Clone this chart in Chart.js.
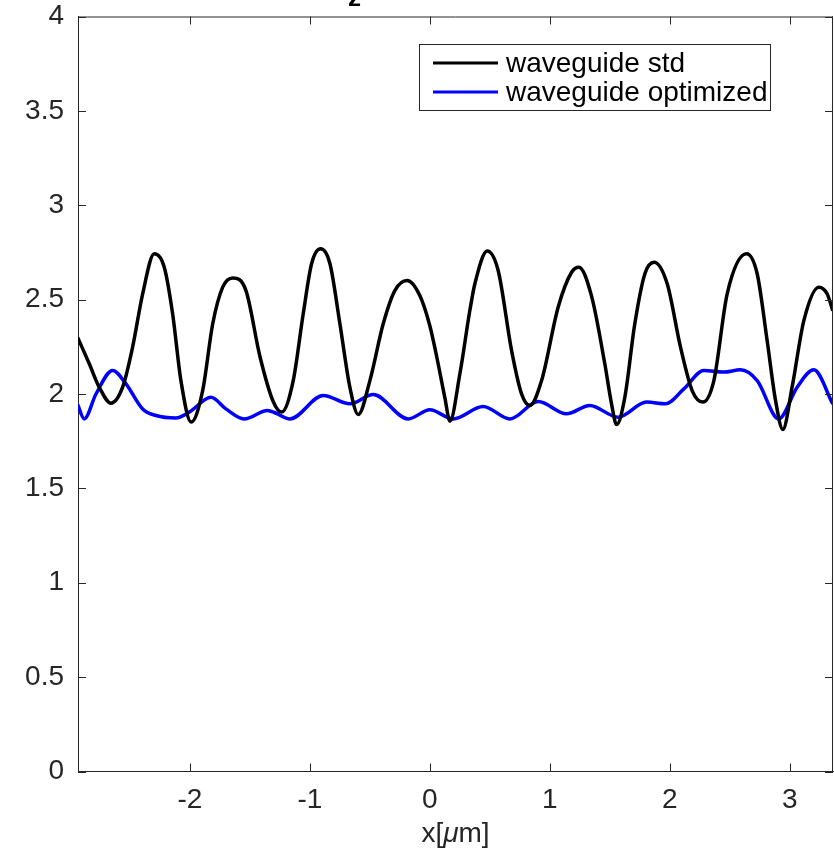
<!DOCTYPE html>
<html>
<head>
<meta charset="utf-8">
<script src="https://cdn.jsdelivr.net/npm/chart.js@4.4.1/dist/chart.umd.min.js"></script>
<style>
    html, body { margin: 0; padding: 0; background: #fff; }
</style>
</head>
<body>
<canvas id="chart" width="834" height="850"></canvas>
<script>
// values
const stdX = [-2.936, -2.839, -2.756, -2.658, -2.561, -2.478, -2.394, -2.297, -2.214, -2.144, -2.075, -1.99,
    -1.894, -1.81, -1.727, -1.644, -1.533, -1.417, -1.306, -1.236, -1.139, -1.056, -0.986, -0.911,
    -0.833, -0.75, -0.667, -0.597, -0.5, -0.389, -0.292, -0.189, -0.083, 0.0, 0.056, 0.125, 0.167, 0.25, 0.333,
    0.375, 0.478, 0.569, 0.681, 0.764, 0.833, 0.931, 1.069, 1.181, 1.242, 1.347, 1.458, 1.514, 1.556, 1.625,
    1.708, 1.792, 1.869, 1.978, 2.089, 2.186, 2.275, 2.367, 2.478, 2.639, 2.728, 2.811, 2.881, 2.942, 3.019,
    3.117, 3.242, 3.311, 3.358];
const stdY = [2.30, 2.16, 2.036, 1.951, 2.036, 2.248, 2.531, 2.743, 2.672, 2.424, 2.07, 1.851,
    2.018, 2.372, 2.566, 2.615, 2.548, 2.20, 1.96, 1.904, 2.071, 2.424, 2.69, 2.769,
    2.69, 2.372, 2.036, 1.891, 2.071, 2.372, 2.548, 2.601, 2.52, 2.36, 2.2, 1.98, 1.856, 2.107, 2.442,
    2.584, 2.757, 2.654, 2.23, 2.001, 1.939, 2.071, 2.46, 2.645, 2.672, 2.52, 2.16, 1.948, 1.838, 1.983,
    2.372, 2.637, 2.698, 2.584, 2.248, 2.018, 1.957, 2.071, 2.531, 2.743, 2.637, 2.283, 1.966, 1.812, 2.036,
    2.389, 2.566, 2.531, 2.442];

const optX = [-2.936, -2.881, -2.783, -2.644, -2.533, -2.394, -2.283, -2.117, -2.006, -1.825, -1.7, -1.547,
    -1.353, -1.283, -1.167, -0.889, -0.667, -0.472, -0.181, 0.0, 0.194, 0.444, 0.667, 0.903, 1.139, 1.333,
    1.569, 1.806, 1.964, 2.117, 2.283, 2.45, 2.589, 2.728, 2.908, 3.061, 3.2, 3.358];
const optY = [1.944, 1.868, 2.0, 2.125, 2.054, 1.921, 1.886, 1.873, 1.904, 1.983, 1.921, 1.868,
    1.913, 1.898, 1.868, 1.992, 1.948, 1.997, 1.868, 1.916, 1.868, 1.934, 1.868, 1.96, 1.895, 1.939,
    1.877, 1.957, 1.948, 2.027, 2.125, 2.116, 2.128, 2.071, 1.868, 2.036, 2.128, 1.948];

const seriesLabels = ['waveguide std', 'waveguide optimized'];
const xTicks = [-2, -1, 0, 1, 2, 3];
const yTicks = [0, 0.5, 1, 1.5, 2, 2.5, 3, 3.5, 4];
const xLabel = ['x[', '\u03bc', 'm]'];

const FONT = '"Liberation Sans", Arial, Helvetica, sans-serif';
const AXIS_COLOR = '#262626';

const toPoints = (xs, ys) => xs.map((x, i) => ({ x: x, y: ys[i] }));

// box, inside ticks, legend, x label and the clipped title
const matlabAxes = {
    id: 'matlabAxes',
    afterDraw(chart) {
        const { ctx, chartArea: a, scales } = chart;
        const xs = scales.x, ys = scales.y;
        ctx.save();
        ctx.strokeStyle = AXIS_COLOR;
        ctx.lineWidth = 1;
        ctx.beginPath();
        ctx.moveTo(a.left, a.top + 0.5);
        ctx.lineTo(a.right, a.top + 0.5);
        ctx.moveTo(a.right - 0.5, a.top);
        ctx.lineTo(a.right - 0.5, a.bottom);
        xTicks.forEach(v => {
            const px = Math.round(xs.getPixelForValue(v)) + 0.5;
            ctx.moveTo(px, a.bottom); ctx.lineTo(px, a.bottom - 8);
            ctx.moveTo(px, a.top); ctx.lineTo(px, a.top + 8);
        });
        yTicks.forEach(v => {
            const py = Math.round(ys.getPixelForValue(v)) + 0.5;
            ctx.moveTo(a.left, py); ctx.lineTo(a.left + 8, py);
            ctx.moveTo(a.right, py); ctx.lineTo(a.right - 8, py);
        });
        ctx.stroke();

        // legend
        const lx = 419.5, ly = 44.5, lw = 351, lh = 66;
        ctx.fillStyle = '#fff';
        ctx.fillRect(lx, ly, lw, lh);
        ctx.strokeStyle = AXIS_COLOR;
        ctx.strokeRect(lx, ly, lw, lh);
        ctx.font = '28px ' + FONT;
        ctx.textBaseline = 'middle';
        ctx.textAlign = 'left';
        chart.data.datasets.forEach((ds, i) => {
            const y = 63 + i * 29;
            ctx.strokeStyle = ds.borderColor;
            ctx.lineWidth = 3;
            ctx.beginPath();
            ctx.moveTo(433, y);
            ctx.lineTo(498, y);
            ctx.stroke();
            ctx.fillStyle = '#000';
            ctx.fillText(ds.label, 506, y + 1);
        });

        // x label with italic mu
        const fonts = ['28px ' + FONT, 'italic 28px ' + FONT, '28px ' + FONT];
        const widths = xLabel.map((t, i) => { ctx.font = fonts[i]; return ctx.measureText(t).width; });
        let x = (a.left + a.right) / 2 - widths.reduce((s, w) => s + w, 0) / 2;
        ctx.fillStyle = AXIS_COLOR;
        ctx.textBaseline = 'alphabetic';
        xLabel.forEach((t, i) => {
            ctx.font = fonts[i];
            ctx.fillText(t, x, 842);
            x += widths[i];
        });

        // title, mostly above the picture
        ctx.font = 'bold 26px ' + FONT;
        ctx.fillStyle = '#000';
        ctx.fillText('z', 348, 6);
        ctx.restore();
    }
};

const lineStyle = (label, color, xs, ys) => ({
    label: label,
    data: toPoints(xs, ys),
    showLine: true,
    borderColor: color,
    borderWidth: 3.5,
    pointRadius: 0,
    cubicInterpolationMode: 'monotone'
});

const chart = new Chart(document.getElementById('chart'), {
    type: 'scatter',
    data: {
        datasets: [
            lineStyle(seriesLabels[0], '#000000', stdX, stdY),
            lineStyle(seriesLabels[1], '#0000ff', optX, optY)
        ]
    },
    options: {
        responsive: false,
        animation: false,
        events: [],
        layout: { padding: { top: 16.5, right: 1, left: 0, bottom: 0 } },
        plugins: {
            legend: { display: false },
            tooltip: { enabled: false }
        },
        scales: {
            x: {
                type: 'linear',
                min: -2.933,
                max: 3.36,
                afterBuildTicks: scale => { scale.ticks = xTicks.map(v => ({ value: v })); },
                afterFit: scale => { scale.height = 78.5; scale.paddingLeft = 0; scale.paddingRight = 0; },
                grid: { display: false, drawTicks: false },
                border: { display: true, color: AXIS_COLOR, width: 1 },
                ticks: {
                    padding: 12,
                    color: AXIS_COLOR,
                    font: { family: FONT, size: 28 },
                    maxRotation: 0,
                    callback: v => String(v)
                }
            },
            y: {
                min: 0,
                max: 4,
                afterBuildTicks: scale => { scale.ticks = yTicks.map(v => ({ value: v })); },
                afterFit: scale => { scale.width = 78; scale.paddingTop = 0; scale.paddingBottom = 0; },
                grid: { display: false, drawTicks: false },
                border: { display: true, color: AXIS_COLOR, width: 1 },
                ticks: {
                    padding: 14,
                    color: AXIS_COLOR,
                    font: { family: FONT, size: 28 },
                    callback: v => String(v)
                }
            }
        }
    },
    plugins: [matlabAxes]
});
</script>
</body>
</html>
